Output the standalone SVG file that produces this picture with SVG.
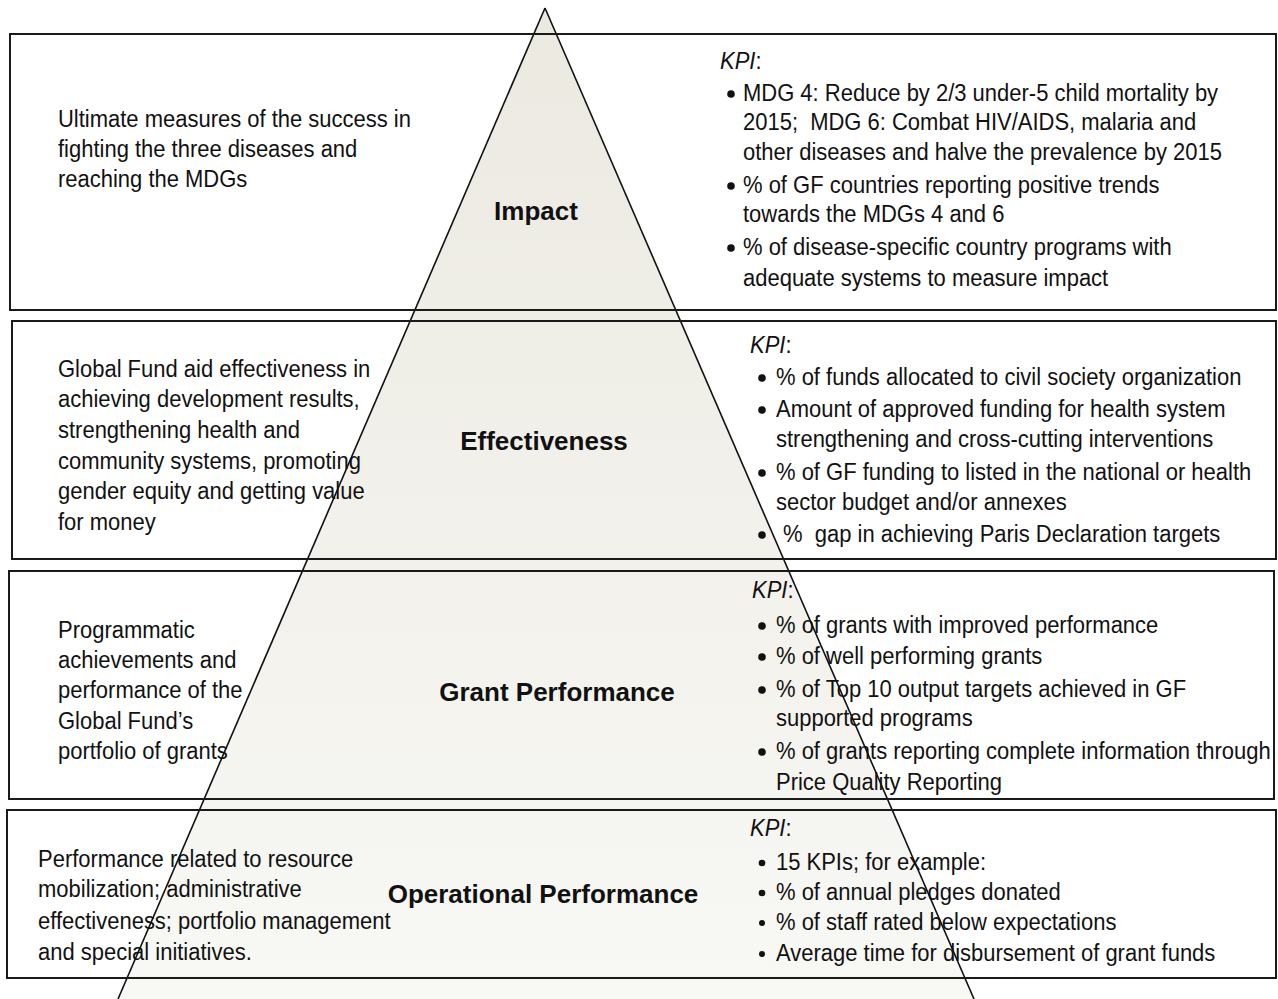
<svg xmlns="http://www.w3.org/2000/svg" width="1278" height="999" viewBox="0 0 1278 999">
<defs>
<linearGradient id="pg" x1="0" y1="0" x2="0" y2="1">
<stop offset="0" stop-color="#ebe9e0"/>
<stop offset="1" stop-color="#f8f8f5"/>
</linearGradient>
</defs>
<style>
.box{fill:none;stroke:#1a1a1a;stroke-width:2}
.t{font-family:"Liberation Sans",Arial,sans-serif;font-size:23.4px;fill:#111;transform-box:fill-box;transform-origin:0 50%;transform:scaleX(0.94)}
.b{font-family:"Liberation Sans",Arial,sans-serif;font-size:26px;font-weight:bold;fill:#111;text-anchor:middle}
.i{font-style:italic}
.pre{white-space:pre}
.dot{fill:#111}
</style>
<rect width="1278" height="999" fill="#fff"/>
<g id="pyramid">
<polygon points="545,8 118,999 974,999" fill="url(#pg)"/>
</g>
<g id="connectors">
<line x1="545" y1="8" x2="118" y2="999" stroke="#111" stroke-width="1.6"/>
<line x1="545" y1="8" x2="974" y2="999" stroke="#111" stroke-width="1.6"/>
</g>
<g id="impact">
<rect class="box" x="10" y="34" width="1266" height="276"/>
<text class="t" x="58" y="127">Ultimate measures of the success in</text>
<text class="t" x="58" y="157">fighting the three diseases and</text>
<text class="t" x="58" y="187">reaching the MDGs</text>
<text class="b" x="536" y="220">Impact</text>
<text class="t" x="720" y="69"><tspan class="i">KPI</tspan>:</text>
<circle class="dot" cx="731" cy="94" r="3.8"/>
<text class="t" x="743" y="101">MDG 4: Reduce by 2/3 under-5 child mortality by</text>
<text class="t pre" x="743" y="130">2015;  MDG 6: Combat HIV/AIDS, malaria and</text>
<text class="t" x="743" y="160">other diseases and halve the prevalence by 2015</text>
<circle class="dot" cx="731" cy="186" r="3.8"/>
<text class="t" x="743" y="193">% of GF countries reporting positive trends</text>
<text class="t" x="743" y="222">towards the MDGs 4 and 6</text>
<circle class="dot" cx="731" cy="248" r="3.8"/>
<text class="t" x="743" y="255">% of disease-specific country programs with</text>
<text class="t" x="743" y="286">adequate systems to measure impact</text>
</g>
<g id="effectiveness">
<rect class="box" x="12" y="321" width="1264" height="238"/>
<text class="t" x="58" y="377">Global Fund aid effectiveness in</text>
<text class="t" x="58" y="407">achieving development results,</text>
<text class="t" x="58" y="438">strengthening health and</text>
<text class="t" x="58" y="469">community systems, promoting</text>
<text class="t" x="58" y="499">gender equity and getting value</text>
<text class="t" x="58" y="530">for money</text>
<text class="b" x="544" y="450">Effectiveness</text>
<text class="t" x="750" y="353"><tspan class="i">KPI</tspan>:</text>
<circle class="dot" cx="762" cy="378" r="3.8"/>
<text class="t" x="776" y="385">% of funds allocated to civil society organization</text>
<circle class="dot" cx="762" cy="410" r="3.8"/>
<text class="t" x="776" y="417">Amount of approved funding for health system</text>
<text class="t" x="776" y="447">strengthening and cross-cutting interventions</text>
<circle class="dot" cx="762" cy="473" r="3.8"/>
<text class="t" x="776" y="480">% of GF funding to listed in the national or health</text>
<text class="t" x="776" y="510">sector budget and/or annexes</text>
<circle class="dot" cx="762" cy="535" r="3.8"/>
<text class="t pre" x="783" y="542">%  gap in achieving Paris Declaration targets</text>
</g>
<g id="grant-performance">
<rect class="box" x="9" y="571" width="1265" height="228"/>
<text class="t" x="58" y="638">Programmatic</text>
<text class="t" x="58" y="668">achievements and</text>
<text class="t" x="58" y="698">performance of the</text>
<text class="t" x="58" y="729">Global Fund’s</text>
<text class="t" x="58" y="759">portfolio of grants</text>
<text class="b" x="557" y="701">Grant Performance</text>
<text class="t" x="752" y="598"><tspan class="i">KPI</tspan>:</text>
<circle class="dot" cx="762" cy="626" r="3.8"/>
<text class="t" x="776" y="633">% of grants with improved performance</text>
<circle class="dot" cx="762" cy="657" r="3.8"/>
<text class="t" x="776" y="664">% of well performing grants</text>
<circle class="dot" cx="762" cy="690" r="3.8"/>
<text class="t" x="776" y="697">% of Top 10 output targets achieved in GF</text>
<text class="t" x="776" y="726">supported programs</text>
<circle class="dot" cx="762" cy="752" r="3.8"/>
<text class="t" x="776" y="759">% of grants reporting complete information through</text>
<text class="t" x="776" y="790">Price Quality Reporting</text>
</g>
<g id="operational-performance">
<rect class="box" x="7" y="810" width="1269" height="168"/>
<text class="t" x="38" y="867">Performance related to resource</text>
<text class="t" x="38" y="897">mobilization; administrative</text>
<text class="t" x="38" y="929">effectiveness; portfolio management</text>
<text class="t" x="38" y="960">and special initiatives.</text>
<text class="b" x="543" y="903">Operational Performance</text>
<text class="t" x="750" y="836"><tspan class="i">KPI</tspan>:</text>
<circle class="dot" cx="762" cy="863" r="3.3"/>
<text class="t" x="776" y="870">15 KPIs; for example:</text>
<circle class="dot" cx="762" cy="893" r="3.3"/>
<text class="t" x="776" y="900">% of annual pledges donated</text>
<circle class="dot" cx="762" cy="923" r="3"/>
<text class="t" x="776" y="930">% of staff rated below expectations</text>
<circle class="dot" cx="762" cy="954" r="3"/>
<text class="t" x="776" y="961">Average time for disbursement of grant funds</text>
</g>
</svg>
